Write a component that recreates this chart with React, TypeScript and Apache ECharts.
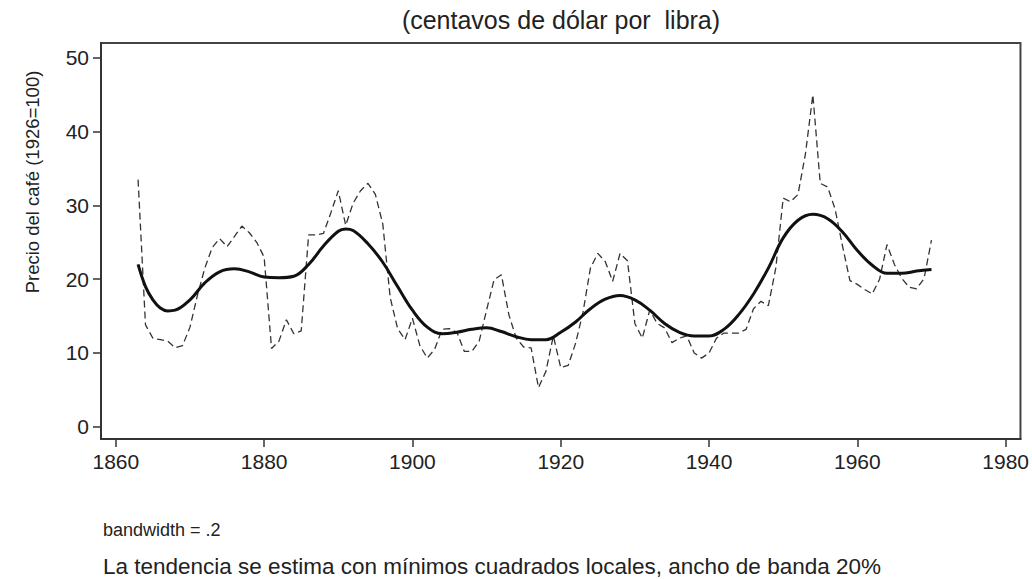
import React, { useEffect, useRef } from "react";
import * as echarts from "echarts";

// Annual coffee price index, 1863-1970 (dashed line)
const startYear = 1863;
const price = [
  33.5, 13.8, 12.0, 11.8, 11.6, 10.7, 11.0,
  13.5, 17.8, 21.5, 24.3, 25.5, 24.4, 25.8, 27.2, 26.3, 25.0,
  23.0, 10.6, 11.6, 14.5, 12.6, 13.0, 26.0, 26.0, 26.2, 29.0,
  32.0, 27.3, 30.3, 32.0, 33.0, 31.5, 27.5, 17.5, 13.3, 11.8,
  14.7, 11.0, 9.3, 10.5, 13.2, 13.3, 12.8, 10.2, 10.2, 11.6,
  15.8, 19.9, 20.6, 15.2, 12.0, 10.8, 10.7, 5.3, 7.5, 12.3,
  8.0, 8.3, 11.3, 15.5, 21.5, 23.5, 22.4, 19.7, 23.5, 22.5,
  14.0, 12.0, 15.8, 14.0, 13.4, 11.4, 12.0, 12.3, 10.0, 9.3,
  10.0, 12.0, 12.7, 12.7, 12.7, 13.2, 16.0, 17.0, 16.4, 21.5,
  31.0, 30.5, 31.5, 37.0, 45.0, 33.0, 32.5, 29.5, 24.5, 19.8,
  19.3, 18.6, 18.0, 20.0, 24.7, 22.0, 20.1, 18.9, 18.7, 20.1,
  25.3,
];

// Local least squares trend (solid line)
const trendYears = [
  1863, 1864, 1865, 1866, 1867, 1868, 1870, 1872, 1874, 1876, 1878, 1880,
  1882, 1884, 1886, 1888, 1890, 1891, 1892, 1894, 1896, 1898, 1900, 1902,
  1904, 1906, 1908, 1910, 1912, 1914, 1916, 1918, 1920, 1922, 1924, 1926,
  1928, 1930, 1932, 1934, 1936, 1938, 1940, 1942, 1944, 1946, 1948, 1950,
  1952, 1954, 1956, 1958, 1960, 1962, 1964, 1966, 1968, 1970,
];
const trendValues = [
  22.0, 19.0, 17.2, 16.1, 15.7, 15.8, 17.2, 19.5, 21.0, 21.4, 21.0, 20.3,
  20.2, 20.4, 22.0, 24.5, 26.5, 26.8, 26.6, 24.8, 22.3, 19.0, 15.8, 13.5,
  12.6, 12.8, 13.2, 13.4, 12.9, 12.2, 11.8, 11.8, 12.8, 14.2, 16.0, 17.3,
  17.8, 17.2, 15.8, 14.0, 12.8, 12.3, 12.3, 13.2, 15.2, 18.0, 21.5, 25.6,
  28.0, 28.8, 28.2, 26.4, 23.9, 21.9, 20.8, 20.8, 21.1, 21.3,
];

const xTicks = [1860, 1880, 1900, 1920, 1940, 1960, 1980];
const yTicks = [0, 10, 20, 30, 40, 50];

const titleText = "(centavos de dólar por  libra)";
const yTitle = "Precio del café (1926=100)";
const note1 = "bandwidth = .2";
const note2 = "La tendencia se estima con mínimos cuadrados locales, ancho de banda 20%";

const FONT = "'Liberation Sans', Arial, sans-serif";

export default function App() {
  const ref = useRef<HTMLDivElement>(null);

  useEffect(() => {
    if (!ref.current) return;
    const chart = echarts.init(ref.current, null, { renderer: "svg" });
    const priceData = price.map((v, i) => [startYear + i, v]);
    const trendData = trendYears.map((y, i) => [y, trendValues[i]]);

    chart.setOption({
      animation: false,
      backgroundColor: "#ffffff",
      textStyle: { fontFamily: FONT },
      grid: {
        left: 101,
        right: 11,
        top: 43,
        bottom: 140,
        show: true,
        borderColor: "#444",
        borderWidth: 2,
        backgroundColor: "transparent",
      },
      xAxis: {
        type: "value",
        min: 1858,
        max: 1982,
        splitLine: { show: false },
        axisLine: { show: true, onZero: false, lineStyle: { color: "#333", width: 2 } },
        axisTick: {
          show: true,
          customValues: xTicks,
          length: 8,
          lineStyle: { color: "#333", width: 1.5 },
        },
        axisLabel: {
          customValues: xTicks,
          formatter: (v: number) => String(v),
          fontSize: 21,
          color: "#222",
          margin: 12,
          fontFamily: FONT,
        },
      },
      yAxis: {
        type: "value",
        min: -1.67,
        max: 52.03,
        splitLine: { show: false },
        axisLine: { show: true, onZero: false, lineStyle: { color: "#333", width: 2 } },
        axisTick: {
          show: true,
          customValues: yTicks,
          length: 8,
          lineStyle: { color: "#333", width: 1.5 },
        },
        axisLabel: {
          customValues: yTicks,
          formatter: (v: number) => String(v),
          fontSize: 21,
          color: "#222",
          margin: 12,
          fontFamily: FONT,
        },
      },
      graphic: [
        {
          type: "text",
          x: 561,
          y: 20,
          style: {
            text: titleText,
            fontSize: 25,
            fontFamily: FONT,
            fill: "#222",
            align: "center",
            verticalAlign: "middle",
          },
        },
        {
          type: "text",
          x: 32,
          y: 182,
          rotation: Math.PI / 2,
          style: {
            text: yTitle,
            fontSize: 18.5,
            fontFamily: FONT,
            fill: "#222",
            align: "center",
            verticalAlign: "middle",
          },
        },
        {
          type: "text",
          x: 103,
          y: 530,
          style: {
            text: note1,
            fontSize: 18,
            fontFamily: FONT,
            fill: "#222",
            align: "left",
            verticalAlign: "middle",
          },
        },
        {
          type: "text",
          x: 103,
          y: 566,
          style: {
            text: note2,
            fontSize: 22.5,
            fontFamily: FONT,
            fill: "#222",
            align: "left",
            verticalAlign: "middle",
          },
        },
      ],
      series: [
        {
          type: "line",
          data: priceData,
          showSymbol: false,
          symbol: "none",
          lineStyle: { color: "#333", width: 1.3, type: [7, 4] },
          z: 2,
        },
        {
          type: "line",
          data: trendData,
          smooth: 0.4,
          showSymbol: false,
          symbol: "none",
          lineStyle: { color: "#111", width: 3 },
          z: 3,
        },
      ],
    });

    return () => chart.dispose();
  }, []);

  return (
    <div
      ref={ref}
      style={{ position: "fixed", left: 0, top: 0, width: 1032, height: 579 }}
    />
  );
}
